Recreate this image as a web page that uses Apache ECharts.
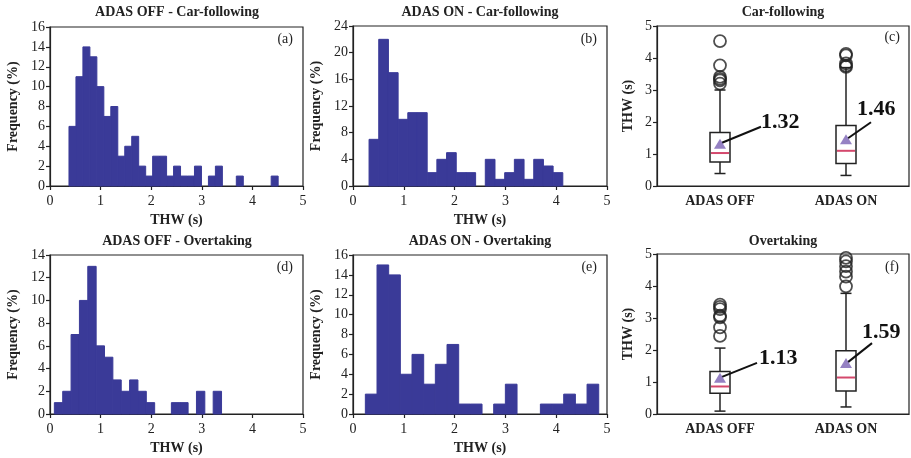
<!DOCTYPE html>
<html>
<head>
<meta charset="utf-8">
<script src="https://cdn.jsdelivr.net/npm/echarts@6/dist/echarts.min.js"></script>
<style>
  html, body { margin: 0; padding: 0; background: #fff; }
  #chart { width: 911px; height: 458px; }
</style>
</head>
<body>
<div id="chart"></div>
<script>
// ---- Histogram data: frequency (%) per THW bin (s) ----
const offCarStart = 0.375, offCarWidth = 0.1378;
const offCarFreq = [6, 11, 14, 13, 10, 7, 8, 3, 4, 5, 2, 1, 3, 3, 1, 2, 1, 1, 2, 0, 1, 2, 0, 0, 1, 0, 0, 0, 0, 1];

const onCarStart = 0.316, onCarWidth = 0.1907;
const onCarFreq = [7, 22, 17, 10, 11, 11, 2, 4, 5, 2, 2, 0, 4, 1, 2, 4, 1, 4, 3, 2];

const offOvtStart = 0.086, offOvtWidth = 0.1652;
const offOvtFreq = [1, 2, 7, 10, 13, 6, 5, 3, 2, 3, 2, 1, 0, 0, 1, 1, 0, 2, 0, 2];

const onOvtStart = 0.243, onOvtWidth = 0.2297;
const onOvtFreq = [2, 15, 14, 4, 6, 3, 5, 7, 1, 1, 0, 1, 3, 0, 0, 1, 1, 2, 1, 3];

// ---- Box plot data: [low whisker, Q1, median, Q3, high whisker] ----
const groups = ['ADAS OFF', 'ADAS ON'];
const carBox = [[0.39, 0.75, 1.03, 1.67, 3.0], [0.33, 0.70, 1.10, 1.89, 3.70]];
const carMean = [1.32, 1.46];
const carOutliers = [[3.2, 3.3, 3.35, 3.41, 3.77, 4.53], [3.72, 3.76, 3.83, 4.08, 4.13]];

const ovtBox = [[0.09, 0.65, 0.86, 1.33, 2.06], [0.22, 0.72, 1.14, 1.98, 3.77]];
const ovtMean = [1.13, 1.59];
const ovtOutliers = [[2.44, 2.71, 3.02, 3.07, 3.28, 3.35, 3.42], [3.99, 4.29, 4.45, 4.62, 4.77, 4.88]];

// ---- Styling ----
const FONT = '"Liberation Serif", "Times New Roman", serif';
const INK = '#222';
const BAR = '#3a3a98';
const MEDIAN = '#d4486c';
const MEAN = '#7b62b4';

const grids = [
  { left: 50, top: 27, width: 253, height: 159 },
  { left: 353, top: 26, width: 254, height: 160 },
  { left: 657, top: 26, width: 252, height: 160 },
  { left: 50, top: 255, width: 253, height: 159 },
  { left: 353, top: 255, width: 254, height: 159 },
  { left: 657, top: 254, width: 252, height: 160 }
].map(g => Object.assign(g, { show: true, borderColor: INK, borderWidth: 1.2, backgroundColor: 'transparent' }));

const axisLine = { lineStyle: { color: INK, width: 1.2 } };
const axisTick = { inside: false, length: 4, lineStyle: { color: INK, width: 1.2 } };
const tickLabel = { color: INK, fontFamily: FONT, fontSize: 14 };
const nameStyle = { color: INK, fontFamily: FONT, fontSize: 14, fontWeight: 'bold' };

function histX(gi) {
  return {
    type: 'value', gridIndex: gi, min: 0, max: 5, interval: 1,
    name: 'THW (s)', nameLocation: 'middle', nameGap: 27, nameTextStyle: nameStyle,
    axisLine, axisTick, axisLabel: Object.assign({ margin: 8 }, tickLabel), splitLine: { show: false }
  };
}
function histY(gi, max, interval) {
  return {
    type: 'value', gridIndex: gi, min: 0, max, interval,
    name: 'Frequency (%)', nameLocation: 'middle', nameGap: 30, nameTextStyle: nameStyle,
    axisLine: Object.assign({ show: true }, axisLine), axisTick: Object.assign({ show: true }, axisTick),
    axisLabel: Object.assign({ margin: 5 }, tickLabel), splitLine: { show: false }
  };
}
function boxX(gi) {
  return {
    type: 'category', gridIndex: gi, data: groups, boundaryGap: true,
    axisLine, axisTick: Object.assign({ alignWithLabel: true }, axisTick),
    axisLabel: Object.assign({ margin: 8 }, tickLabel, { fontWeight: 'bold' }), splitLine: { show: false }
  };
}
function boxY(gi) {
  return {
    type: 'value', gridIndex: gi, min: 0, max: 5, interval: 1,
    name: 'THW (s)', nameLocation: 'middle', nameGap: 22, nameTextStyle: nameStyle,
    axisLine: Object.assign({ show: true }, axisLine), axisTick: Object.assign({ show: true }, axisTick),
    axisLabel: Object.assign({ margin: 5 }, tickLabel), splitLine: { show: false }
  };
}

// Histogram drawn as touching rectangles, each bin [start, end, freq]
function histSeries(gi, start, width, freq) {
  const data = freq.map((f, i) => [start + i * width, start + (i + 1) * width, f]);
  return {
    type: 'custom', xAxisIndex: gi, yAxisIndex: gi, data,
    encode: { x: [0, 1], y: 2 },
    renderItem(params, api) {
      const p0 = api.coord([api.value(0), 0]);
      const p1 = api.coord([api.value(1), api.value(2)]);
      if (p0[1] - p1[1] < 0.5) return null;
      return {
        type: 'rect',
        shape: { x: p0[0], y: p1[1], width: p1[0] - p0[0], height: p0[1] - p1[1] },
        style: { fill: BAR, stroke: BAR, lineWidth: 1 }
      };
    }
  };
}

// Box-and-whisker with short caps and a coloured median line
function boxSeries(gi, stats) {
  const data = stats.map((s, i) => [i].concat(s));
  return {
    type: 'custom', xAxisIndex: gi, yAxisIndex: gi, data, z: 3,
    encode: { x: 0, y: [1, 2, 3, 4, 5] },
    renderItem(params, api) {
      const idx = api.value(0);
      const lo = api.coord([idx, api.value(1)]);
      const q1 = api.coord([idx, api.value(2)]);
      const md = api.coord([idx, api.value(3)]);
      const q3 = api.coord([idx, api.value(4)]);
      const hi = api.coord([idx, api.value(5)]);
      const x = lo[0], hw = 10, cw = 5.5;
      const ls = { stroke: INK, lineWidth: 1.5 };
      return {
        type: 'group',
        children: [
          { type: 'line', shape: { x1: x, y1: lo[1], x2: x, y2: q1[1] }, style: ls },
          { type: 'line', shape: { x1: x, y1: q3[1], x2: x, y2: hi[1] }, style: ls },
          { type: 'line', shape: { x1: x - cw, y1: lo[1], x2: x + cw, y2: lo[1] }, style: ls },
          { type: 'line', shape: { x1: x - cw, y1: hi[1], x2: x + cw, y2: hi[1] }, style: ls },
          { type: 'rect', shape: { x: x - hw, y: q3[1], width: 2 * hw, height: q1[1] - q3[1] },
            style: { fill: '#fff', stroke: INK, lineWidth: 1.5 } },
          { type: 'line', shape: { x1: x - hw + 1, y1: md[1], x2: x + hw - 1, y2: md[1] },
            style: { stroke: MEDIAN, lineWidth: 2 } }
        ]
      };
    }
  };
}

function outlierSeries(gi, outliers) {
  const data = [];
  outliers.forEach((vals, i) => vals.forEach(v => data.push([i, v])));
  return {
    type: 'scatter', xAxisIndex: gi, yAxisIndex: gi, data, z: 4,
    symbol: 'circle', symbolSize: 12,
    itemStyle: { color: 'rgba(0,0,0,0)', borderColor: INK, borderWidth: 1.8 },
    emphasis: { disabled: true }
  };
}

// Mean marker with a leader line and the mean value written beside it
function meanSeries(gi, means, offsets) {
  const data = means.map((m, i) => [i, m]);
  return [
    {
      type: 'custom', xAxisIndex: gi, yAxisIndex: gi, data, z: 5,
      encode: { x: 0, y: 1 },
      renderItem(params, api) {
        const i = params.dataIndex;
        const p = api.coord([api.value(0), api.value(1)]);
        const o = offsets[i];
        return {
          type: 'group',
          children: [
            { type: 'line', shape: { x1: p[0] + 2, y1: p[1] - 1, x2: p[0] + o.lx, y2: p[1] + o.ly },
              style: { stroke: '#111', lineWidth: 2 } },
            { type: 'text', x: p[0] + o.tx, y: p[1] + o.ty,
              style: { text: api.value(1).toFixed(2), fill: '#111', font: 'bold 22px ' + FONT,
                       textAlign: 'left', textVerticalAlign: 'middle' } }
          ]
        };
      }
    },
    {
      type: 'scatter', xAxisIndex: gi, yAxisIndex: gi, data, z: 6,
      symbol: 'triangle', symbolSize: [12, 10],
      itemStyle: { color: MEAN }, emphasis: { disabled: true }
    }
  ];
}

const titleStyle = { color: INK, fontFamily: FONT, fontSize: 14, fontWeight: 'bold' };
const letterStyle = { color: INK, fontFamily: FONT, fontSize: 14, fontWeight: 'normal' };
function title(text, cx, top) {
  return { text, left: cx, top, textAlign: 'center', padding: 0, textStyle: titleStyle };
}
function letter(text, right, top) {
  return { text, right, top, padding: 0, textStyle: letterStyle };
}

const option = {
  animation: false,
  backgroundColor: '#fff',
  title: [
    title('ADAS OFF - Car-following', 177, 5),
    title('ADAS ON - Car-following', 480, 5),
    title('Car-following', 783, 5),
    title('ADAS OFF - Overtaking', 177, 234),
    title('ADAS ON - Overtaking', 480, 234),
    title('Overtaking', 783, 234),
    letter('(a)', 911 - 293, 32),
    letter('(b)', 911 - 597, 32),
    letter('(c)', 911 - 900, 30),
    letter('(d)', 911 - 293, 260),
    letter('(e)', 911 - 597, 260),
    letter('(f)', 911 - 899, 260)
  ],
  grid: grids,
  xAxis: [histX(0), histX(1), boxX(2), histX(3), histX(4), boxX(5)],
  yAxis: [histY(0, 16, 2), histY(1, 24, 4), boxY(2), histY(3, 14, 2), histY(4, 16, 2), boxY(5)],
  series: [
    histSeries(0, offCarStart, offCarWidth, offCarFreq),
    histSeries(1, onCarStart, onCarWidth, onCarFreq),
    histSeries(3, offOvtStart, offOvtWidth, offOvtFreq),
    histSeries(4, onOvtStart, onOvtWidth, onOvtFreq),
    boxSeries(2, carBox),
    outlierSeries(2, carOutliers),
    ...meanSeries(2, carMean, [
      { lx: 41, ly: -17, tx: 41, ty: -21 },
      { lx: 25, ly: -17, tx: 11, ty: -30 }
    ]),
    boxSeries(5, ovtBox),
    outlierSeries(5, ovtOutliers),
    ...meanSeries(5, ovtMean, [
      { lx: 37, ly: -15, tx: 39, ty: -20 },
      { lx: 26, ly: -20, tx: 16, ty: -31 }
    ])
  ]
};

const chart = echarts.init(document.getElementById('chart'), null, { renderer: 'canvas' });
chart.setOption(option);
</script>
</body>
</html>
